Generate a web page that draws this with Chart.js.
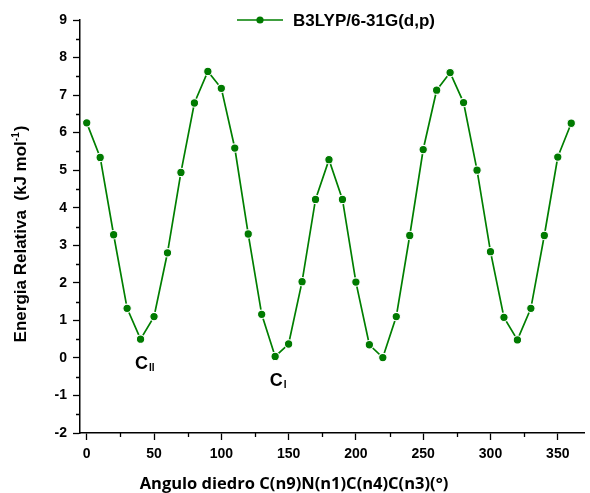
<!DOCTYPE html>
<html>
<head>
<meta charset="utf-8">
<script src="https://cdn.jsdelivr.net/npm/chart.js@4/dist/chart.umd.min.js"></script>
<style>
  html, body { margin: 0; padding: 0; background: #fff; }
  #wrap { width: 590px; height: 493px; position: relative; }
</style>
</head>
<body>
<div id="wrap"><canvas id="chart"></canvas></div>
<script>
// Relative energy scan over the dihedral angle, 10 degree steps
const angles = [0, 10, 20, 30, 40, 50, 60, 70, 80, 90, 100, 110, 120, 130, 140, 150, 160, 170, 180,
  190, 200, 210, 220, 230, 240, 250, 260, 270, 280, 290, 300, 310, 320, 330, 340, 350, 360]
const energies = [6.26, 5.34, 3.28, 1.32, 0.50, 1.10, 2.80, 4.94, 6.79, 7.63, 7.18, 5.59, 3.30, 1.16, 0.04, 0.37, 2.03, 4.22, 5.28,
  4.22, 2.02, 0.35, 0.01, 1.10, 3.26, 5.55, 7.13, 7.60, 6.80, 5.00, 2.83, 1.08, 0.48, 1.32, 3.26, 5.35, 6.25]
const seriesLabel = 'B3LYP/6-31G(d,p)'

const xTicks = [0, 50, 100, 150, 200, 250, 300, 350]
const yTicks = [-2, -1, 0, 1, 2, 3, 4, 5, 6, 7, 8, 9]

// conformer labels, attached to the minimum they name
const conformers = [
  { name: 'C', sub: 'II', angle: 40 },
  { name: 'C', sub: 'I', angle: 140 }
]

const GREEN = '#007f00'
const TEXT = '#000'
const BOLD = "'Liberation Sans', Arial, sans-serif"

// minor ticks halfway between major ones, legend, axis titles and conformer names
const decorations = {
  id: 'decorations',
  afterDraw(chart) {
    const { ctx, scales: { x, y } } = chart
    ctx.save()
    ctx.strokeStyle = '#000'
    ctx.lineWidth = 1.3
    ctx.beginPath()
    for (let i = 0; i < xTicks.length; i++) {
      const v = xTicks[i] + (xTicks[1] - xTicks[0]) / 2
      if (v > x.max) continue
      const px = Math.round(x.getPixelForValue(v)) + 0.5
      ctx.moveTo(px, y.bottom)
      ctx.lineTo(px, y.bottom + 4)
    }
    for (let i = 0; i < yTicks.length - 1; i++) {
      const v = (yTicks[i] + yTicks[i + 1]) / 2
      const py = Math.round(y.getPixelForValue(v)) + 0.5
      ctx.moveTo(x.left, py)
      ctx.lineTo(x.left - 4, py)
    }
    ctx.stroke()

    // legend
    const ds = chart.data.datasets[0]
    ctx.strokeStyle = ds.borderColor
    ctx.lineWidth = ds.borderWidth
    ctx.beginPath()
    ctx.moveTo(237, 20)
    ctx.lineTo(283, 20)
    ctx.stroke()
    ctx.fillStyle = ds.pointBackgroundColor
    ctx.beginPath()
    ctx.arc(260, 20, 3.6, 0, Math.PI * 2)
    ctx.fill()
    ctx.fillStyle = TEXT
    ctx.font = `bold 17px ${BOLD}`
    ctx.textBaseline = 'middle'
    ctx.textAlign = 'left'
    ctx.fillText(ds.label, 293, 21)

    // x axis title
    ctx.font = "bold 16.5px 'Open Sans', Lato, sans-serif"
    ctx.textAlign = 'center'
    ctx.fillText('Angulo diedro C(n9)N(n1)C(n4)C(n3)(°)', 294, 484)

    // y axis title, rotated, with a raised exponent
    ctx.save()
    ctx.translate(26, 234)
    ctx.rotate(-Math.PI / 2)
    ctx.textAlign = 'left'
    ctx.textBaseline = 'alphabetic'
    const main = 'Energia Relativa  (kJ mol'
    const sup = '-1'
    const close = ')'
    ctx.font = `bold 17px ${BOLD}`
    const wMain = ctx.measureText(main).width
    const wClose = ctx.measureText(close).width
    ctx.font = `bold 10px ${BOLD}`
    const wSup = ctx.measureText(sup).width
    let cx = -(wMain + wSup + wClose + 1) / 2
    ctx.font = `bold 17px ${BOLD}`
    ctx.fillText(main, cx, 0)
    cx += wMain
    ctx.font = `bold 10px ${BOLD}`
    ctx.fillText(sup, cx, -7)
    cx += wSup + 1
    ctx.font = `bold 17px ${BOLD}`
    ctx.fillText(close, cx, 0)
    ctx.restore()

    // conformer names under their minima
    ctx.textAlign = 'left'
    ctx.textBaseline = 'alphabetic'
    conformers.forEach(c => {
      const i = angles.indexOf(c.angle)
      const px = x.getPixelForValue(angles[i])
      const py = y.getPixelForValue(energies[i])
      ctx.font = `bold 18px ${BOLD}`
      const w = ctx.measureText(c.name).width
      const left = px - w / 2 + 1
      const base = py + 30
      ctx.fillText(c.name, left, base)
      ctx.font = `bold 10px ${BOLD}`
      ctx.fillText(c.sub, left + w + 1, base + 2)
    })
    ctx.restore()
  }
}

const axisFont = { family: BOLD, size: 14, weight: 'bold' }

new Chart(document.getElementById('chart'), {
  type: 'line',
  data: {
    datasets: [{
      label: seriesLabel,
      data: angles.map((a, i) => ({ x: a, y: energies[i] })),
      borderColor: GREEN,
      borderWidth: 1.7,
      pointRadius: 4.2,
      pointBackgroundColor: '#007a00',
      pointBorderColor: '#fff',
      pointBorderWidth: 1.1,
      tension: 0,
      clip: false
    }]
  },
  options: {
    responsive: true,
    maintainAspectRatio: false,
    animation: false,
    events: [],
    layout: { padding: { top: 20, right: 3, left: 0, bottom: 0 } },
    plugins: {
      legend: { display: false },
      tooltip: { enabled: false }
    },
    scales: {
      x: {
        type: 'linear',
        min: -5,
        max: 370,
        afterBuildTicks: axis => { axis.ticks = xTicks.map(v => ({ value: v })) },
        afterFit: axis => { axis.height = 60 },
        grid: { drawOnChartArea: false, tickLength: 7, tickColor: '#000', tickWidth: 1.3 },
        border: { color: '#000', width: 1.5 },
        ticks: { color: TEXT, font: axisFont, padding: 6, maxRotation: 0 }
      },
      y: {
        type: 'linear',
        min: -2,
        max: 9,
        afterBuildTicks: axis => { axis.ticks = yTicks.map(v => ({ value: v })) },
        afterFit: axis => { axis.width = 80 },
        grid: { drawOnChartArea: false, tickLength: 7, tickColor: '#000', tickWidth: 1.3 },
        border: { color: '#000', width: 1.5 },
        ticks: { color: TEXT, font: axisFont, padding: 6 }
      }
    }
  },
  plugins: [decorations]
})
</script>
</body>
</html>
